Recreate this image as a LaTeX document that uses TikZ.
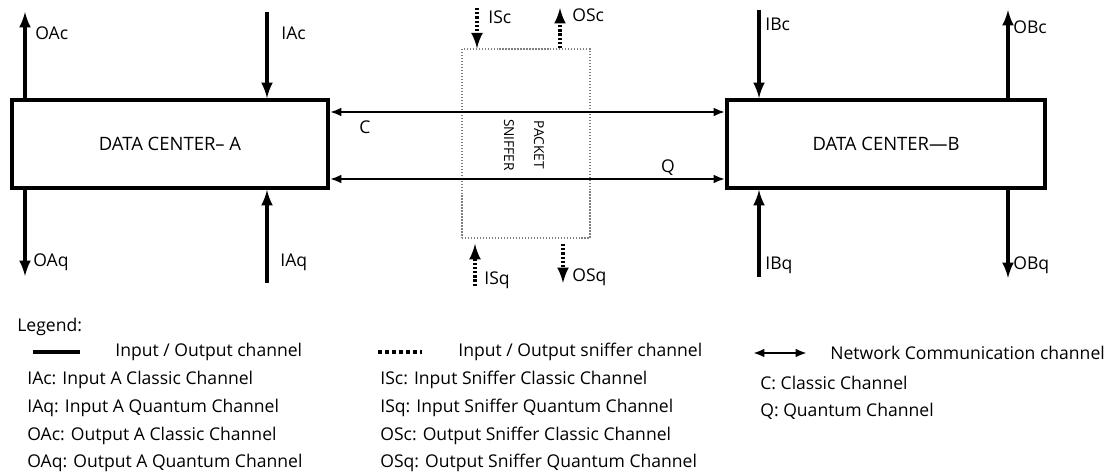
\documentclass[tikz,border=0pt]{standalone}
\usepackage{fontspec}
\setmainfont{Open Sans}
\usetikzlibrary{arrows.meta}
\begin{document}
\begin{tikzpicture}[>=latex, x=0.02cm, y=-0.02cm,
    font=\fontsize{10}{12}\selectfont,
    dcbox/.style={draw, line width=2.2pt, minimum width=6.32cm, minimum height=1.76cm, inner sep=0pt, font=\fontsize{10.5}{12}\selectfont},
    snbox/.style={draw=gray, densely dotted, line width=0.7pt, minimum width=2.56cm, minimum height=3.78cm, inner sep=0pt},
    io/.style={line width=2pt},
    sn/.style={line width=2pt, dash pattern=on 1.3pt off 1.1pt},
    net/.style={{Latex[length=6.5pt,width=5pt]}-{Latex[length=6.5pt,width=5pt]}, line width=1.4pt},
    lbl/.style={anchor=west, inner sep=0pt}]
    % Cadre de la figure
    \useasboundingbox (0,0) rectangle (1117,476);

    % Centres de donnees et renifleur
    \node[dcbox] (dcA) at (170,144) {DATA CENTER-- A};
    \node[dcbox, minimum width=6.36cm] (dcB) at (886,144) {DATA CENTER---B};
    \node[snbox] (snif) at (526,143.5) {};
    \node[rotate=-90, align=center, font=\fontsize{7.8}{17}\selectfont] (snift) at (524,145) {PACKET\\SNIFFER};

    % Extremites libres des canaux
    \coordinate (oac) at (25,12);   \coordinate (iac) at (267,12);
    \coordinate (oaq) at (25,276);  \coordinate (iaq) at (267,283);
    \coordinate (isc) at (477,8);   \coordinate (osc) at (560,8);
    \coordinate (isq) at (475,286); \coordinate (osq) at (563,283);
    \coordinate (ibc) at (759,10);  \coordinate (obc) at (1008,10);
    \coordinate (ibq) at (759,277); \coordinate (obq) at (1008,278);
    \coordinate (cy) at (0,112);    \coordinate (qy) at (0,179);

    % Canaux d'entree / sortie A
    \draw[io,->] (dcA.north -| oac) -- (oac);
    \draw[io,->] (iac) -- (dcA.north -| iac);
    \draw[io,->] (dcA.south -| oaq) -- (oaq);
    \draw[io,->] (iaq) -- (dcA.south -| iaq);
    \node[lbl] (loac) at (35,33) {OAc};
    \node[lbl] (liac) at (281,33) {IAc};
    \node[lbl] (loaq) at (33,262) {OAq};
    \node[lbl] (liaq) at (280,262) {IAq};

    % Canaux d'entree / sortie B
    \draw[io,->] (ibc) -- (dcB.north -| ibc);
    \draw[io,->] (dcB.north -| obc) -- (obc);
    \draw[io,->] (ibq) -- (dcB.south -| ibq);
    \draw[io,->] (dcB.south -| obq) -- (obq);
    \node[lbl] (libc) at (765,24) {IBc};
    \node[lbl] (lobc) at (1013,27) {OBc};
    \node[lbl] (libq) at (765,265) {IBq};
    \node[lbl] (lobq) at (1013,265) {OBq};

    % Canaux du renifleur
    \draw[sn,->] (isc) -- (snif.north -| isc);
    \draw[sn,->] (snif.north -| osc) -- (osc);
    \draw[sn,->] (isq) -- ([yshift=-3pt]snif.south -| isq);
    \draw[sn,->] ([yshift=-3pt]snif.south -| osq) -- (osq);
    \node[lbl] (lisc) at (488,17) {ISc};
    \node[lbl] (losc) at (572,15) {OSc};
    \node[lbl] (lisq) at (484,280) {ISq};
    \node[lbl] (losq) at (572,277) {OSq};

    % Canaux reseau C et Q
    \draw[net] (dcA.east |- cy) -- (dcB.west |- cy);
    \draw[net] (dcA.east |- qy) -- (dcB.west |- qy);
    \node (lc) at (365,127) {C};
    \node (lq) at (668,168) {Q};

    % Legende
    \node[lbl] (leg) at (17,327) {Legend:};
    \coordinate (s1) at (33,352);  \coordinate (s2) at (80,352);
    \coordinate (d1) at (378,352); \coordinate (d2) at (422,352);
    \coordinate (n1) at (753,353); \coordinate (n2) at (807,353);
    \draw[io] (s1) -- (s2);
    \draw[sn, dash pattern=on 2pt off 2pt] (d1) -- (d2);
    \draw[net] (n1) -- (n2);
    \node[lbl] (ls) at (115,352) {Input / Output channel};
    \node[lbl] (ld) at (458,352) {Input / Output sniffer channel};
    \node[lbl] (ln) at (830,353) {Network Communication channel};
    \node[lbl] (l1) at (27,380) {IAc: Input A Classic Channel};
    \node[lbl] (l2) at (27,408) {IAq: Input A Quantum Channel};
    \node[lbl] (l3) at (27,436) {OAc: Output A Classic Channel};
    \node[lbl] (l4) at (27,463) {OAq: Output A Quantum Channel};
    \node[lbl] (l5) at (380,380) {ISc: Input Sniffer Classic Channel};
    \node[lbl] (l6) at (380,408) {ISq: Input Sniffer Quantum Channel};
    \node[lbl] (l7) at (380,436) {OSc: Output Sniffer Classic Channel};
    \node[lbl] (l8) at (380,463) {OSq: Output Sniffer Quantum Channel};
    \node[lbl] (l9) at (760,383) {C: Classic Channel};
    \node[lbl] (l10) at (760,411) {Q: Quantum Channel};
\end{tikzpicture}
\end{document}
